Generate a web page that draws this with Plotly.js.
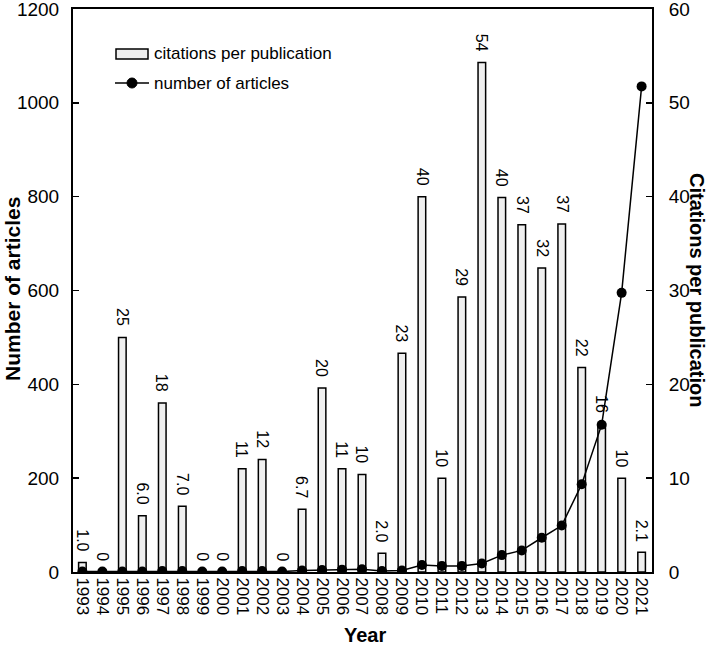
<!DOCTYPE html>
<html>
<head>
<meta charset="utf-8">
<script src="https://cdn.plot.ly/plotly-3.0.1.min.js"></script>
<style>
  html, body { margin: 0; padding: 0; background: #fff; }
  #chart { width: 709px; height: 649px; }
</style>
</head>
<body>
<div id="chart"></div>
<script>
const years = [1993,1994,1995,1996,1997,1998,1999,2000,2001,2002,2003,2004,2005,2006,2007,2008,2009,2010,2011,2012,2013,2014,2015,2016,2017,2018,2019,2020,2021];
const citationsPerPublication = [1.0,0,25,6.0,18,7.0,0,0,11,12,0,6.7,19.6,11,10.4,2.0,23.3,40,10,29.3,54.3,39.9,37,32.4,37.1,21.8,15.8,10,2.1];
const numberOfArticles = [1,1,1,1,2,2,1,1,2,2,1,3,4,5,6,2,3,15,13,13,18,36,46,73,99,187,314,595,1035];
const tickLabels = years.map(String);
const seriesNames = ['citations per publication', 'number of articles'];

const FONT = '"Liberation Sans", Arial, sans-serif';
const labelText = citationsPerPublication.map(v => v === 0 ? '0' : v.toPrecision(2));

// plot area in pixels (for placing legend and titles)
const W = 709, H = 649, L = 73, R = 57, T = 9, B = 77;
const PW = W - L - R, PH = H - T - B;
const px = x => (x - L) / PW;
const py = y => (H - B - y) / PH;

const bars = {
  type: 'bar',
  name: seriesNames[0],
  x: years,
  y: citationsPerPublication,
  yaxis: 'y',
  width: 0.38,
  marker: { color: '#efefef', line: { color: '#000', width: 1.5 } },
  hoverinfo: 'x+y'
};
const line = {
  type: 'scatter',
  mode: 'lines+markers',
  name: seriesNames[1],
  x: years,
  y: numberOfArticles,
  yaxis: 'y2',
  line: { color: '#000', width: 1.5 },
  marker: { color: '#000', size: 10 }
};

const labelAnnotations = years.map((yr, i) => ({
  x: yr, y: citationsPerPublication[i], xref: 'x', yref: 'y',
  text: labelText[i], showarrow: false, textangle: 90,
  xanchor: 'center', yanchor: 'bottom', yshift: 9,
  font: { family: FONT, size: 16, color: '#000' }
}));

const titleAnnotations = [
  { xref: 'paper', yref: 'paper', x: px(12), y: py(289), xanchor: 'center', yanchor: 'middle',
    text: 'Number of articles', showarrow: false, textangle: -90,
    font: { family: FONT, size: 21, color: '#000', weight: 'bold' } },
  { xref: 'paper', yref: 'paper', x: px(697), y: py(290), xanchor: 'center', yanchor: 'middle',
    text: 'Citations per publication', showarrow: false, textangle: 90,
    font: { family: FONT, size: 20, color: '#000', weight: 'bold' } },
  { xref: 'paper', yref: 'paper', x: px(365), y: py(635), xanchor: 'center', yanchor: 'middle',
    text: 'Year', showarrow: false,
    font: { family: FONT, size: 20, color: '#000', weight: 'bold' } }
];

const legendFont = { family: FONT, size: 17, color: '#000' };
const legendAnnotations = [
  { xref: 'paper', yref: 'paper', x: px(152), y: py(54), xanchor: 'left', yanchor: 'middle',
    text: seriesNames[0], showarrow: false, font: legendFont },
  { xref: 'paper', yref: 'paper', x: px(152), y: py(83), xanchor: 'left', yanchor: 'middle',
    text: seriesNames[1], showarrow: false, font: legendFont }
];
const legendShapes = [
  { type: 'rect', xref: 'paper', yref: 'paper', x0: px(116), x1: px(148), y0: py(49), y1: py(59),
    fillcolor: '#efefef', line: { color: '#000', width: 1.5 } },
  { type: 'line', xref: 'paper', yref: 'paper', x0: px(115), x1: px(149), y0: py(83), y1: py(83),
    line: { color: '#000', width: 1.5 } },
  { type: 'circle', xref: 'paper', yref: 'paper', xsizemode: 'pixel', ysizemode: 'pixel',
    xanchor: px(132), yanchor: py(83), x0: -5, x1: 5, y0: -5, y1: 5,
    fillcolor: '#000', line: { color: '#000', width: 1 } }
];

const layout = {
  width: W, height: H,
  margin: { l: L, r: R, t: T, b: B },
  paper_bgcolor: '#fff', plot_bgcolor: '#fff',
  font: { family: FONT, size: 16, color: '#000' },
  showlegend: false,
  xaxis: {
    range: [1992.53, 2021.52],
    tickmode: 'array', tickvals: years, ticktext: tickLabels,
    tickangle: 90, ticks: '', showgrid: false, zeroline: false,
    showline: true, linecolor: '#000', linewidth: 2, mirror: true,
    tickfont: { family: FONT, size: 17, color: '#000' }
  },
  yaxis: {
    side: 'right', range: [0, 60], dtick: 10, tick0: 0,
    ticks: 'inside', ticklen: 6, tickwidth: 1.5, tickcolor: '#000',
    showgrid: false, zeroline: false, showline: true, linecolor: '#000', linewidth: 2,
    ticklabelstandoff: 11, ticklabeloverflow: 'allow',
    tickfont: { family: FONT, size: 19, color: '#000' }
  },
  yaxis2: {
    side: 'left', overlaying: 'y', range: [0, 1200], dtick: 200, tick0: 0,
    ticks: 'inside', ticklen: 6, tickwidth: 1.5, tickcolor: '#000',
    showgrid: false, zeroline: false, showline: true, linecolor: '#000', linewidth: 2,
    ticklabelstandoff: 8, ticklabeloverflow: 'allow',
    tickfont: { family: FONT, size: 19, color: '#000' }
  },
  shapes: legendShapes,
  annotations: labelAnnotations.concat(titleAnnotations, legendAnnotations)
};

Plotly.newPlot('chart', [bars, line], layout, { displayModeBar: false, staticPlot: true });
</script>
</body>
</html>
